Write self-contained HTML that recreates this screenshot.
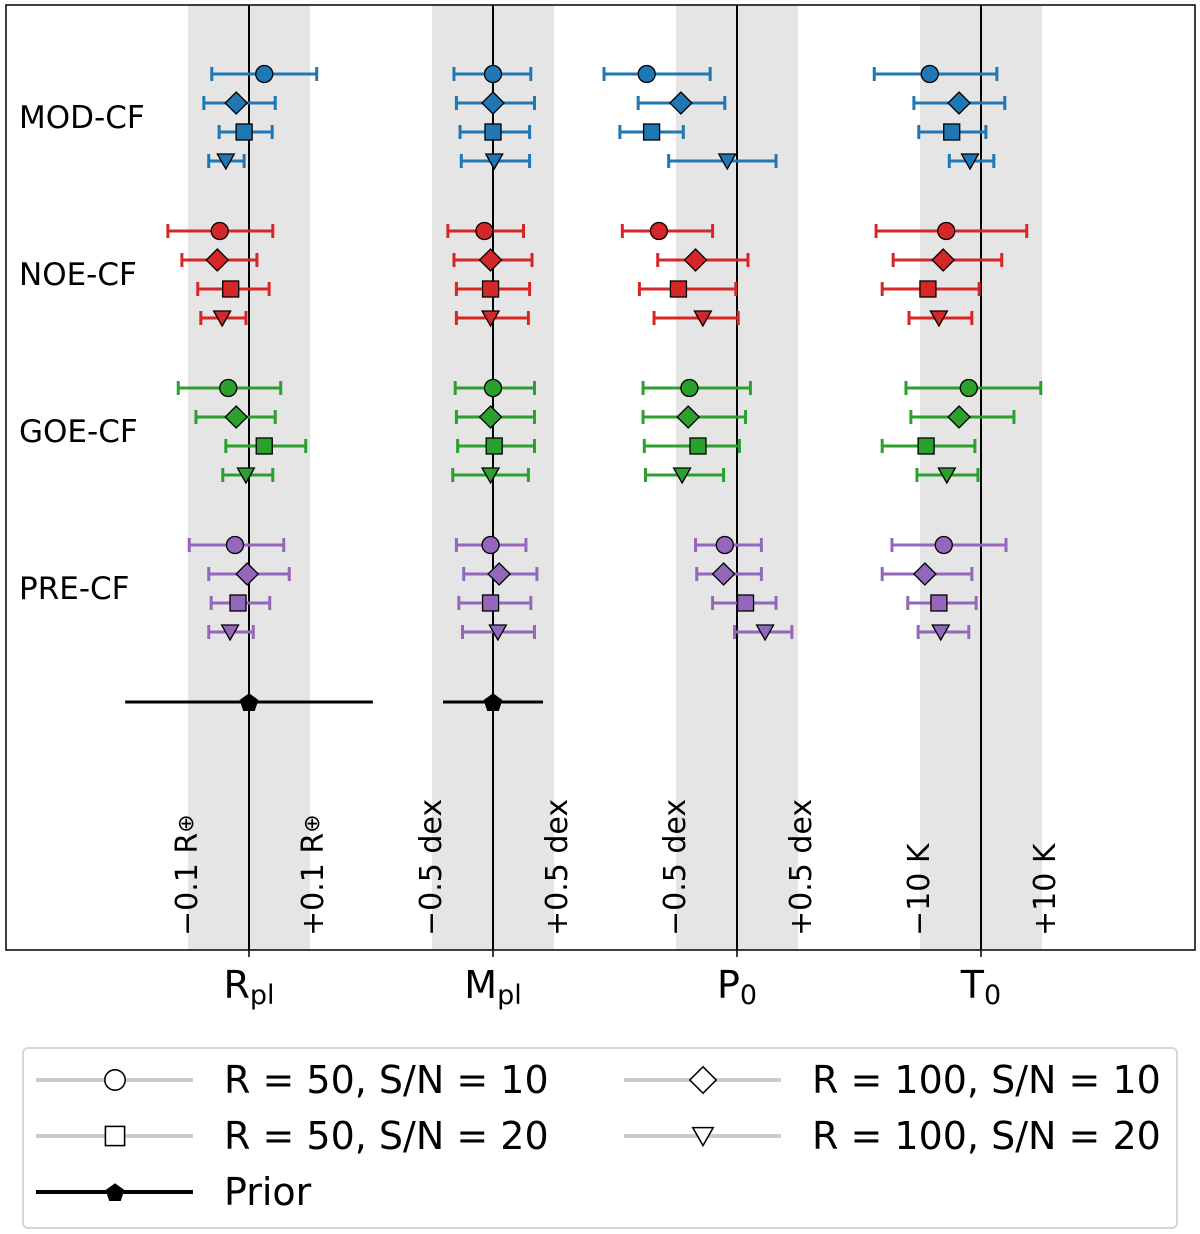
<!DOCTYPE html>
<html><head><meta charset="utf-8"><style>
html,body{margin:0;padding:0;background:#fff;}
svg{display:block;font-family:"DejaVu Sans","Liberation Sans",sans-serif;}
</style></head><body>
<svg id="chart" width="1200" height="1234" viewBox="0 0 1200 1234" xmlns="http://www.w3.org/2000/svg"></svg>
<script>
// ---- data ----
const columns = ["Rpl", "Mpl", "P0", "T0"];
const columnUnits = [0.1, 0.5, 0.5, 10];
const groups = ["MOD-CF", "NOE-CF", "GOE-CF", "PRE-CF"];
const groupColors = ["#1f77b4", "#d62728", "#2ca02c", "#9467bd"];
const markers = ["circle", "diamond", "square", "triangle"];
const bandLabelsNeg = ["\u22120.1 R", "\u22120.5 dex", "\u22120.5 dex", "\u221210 K"];
const bandLabelsPos = ["+0.1 R", "+0.5 dex", "+0.5 dex", "+10 K"];
const bandLabelSuffix = ["\u2295", "", "", ""];
// values[column][group][marker] = [center, low, high]
const rplValues = [
  [[0.025,-0.061,0.111],[-0.021,-0.074,0.043],[-0.008,-0.049,0.038],[-0.038,-0.066,-0.008]],
  [[-0.048,-0.133,0.039],[-0.052,-0.110,0.013],[-0.030,-0.084,0.033],[-0.044,-0.079,-0.005]],
  [[-0.034,-0.116,0.052],[-0.021,-0.087,0.043],[0.025,-0.038,0.093],[-0.005,-0.043,0.039]],
  [[-0.023,-0.098,0.057],[-0.003,-0.066,0.066],[-0.018,-0.062,0.034],[-0.031,-0.066,0.007]]
];
const mplValues = [
  [[0,-0.32,0.31],[0,-0.30,0.34],[0,-0.27,0.30],[0.01,-0.26,0.30]],
  [[-0.07,-0.37,0.25],[-0.02,-0.32,0.32],[-0.02,-0.30,0.30],[-0.02,-0.30,0.29]],
  [[0,-0.31,0.34],[-0.02,-0.30,0.34],[0.01,-0.29,0.34],[-0.02,-0.33,0.29]],
  [[-0.02,-0.30,0.27],[0.05,-0.24,0.36],[-0.02,-0.28,0.31],[0.04,-0.25,0.34]]
];
const p0Values = [
  [[-0.74,-1.09,-0.22],[-0.46,-0.81,-0.10],[-0.70,-0.96,-0.44],[-0.08,-0.56,0.32]],
  [[-0.64,-0.94,-0.20],[-0.34,-0.65,0.09],[-0.48,-0.80,-0.01],[-0.28,-0.68,0.01]],
  [[-0.39,-0.77,0.11],[-0.40,-0.77,0.07],[-0.32,-0.76,0.02],[-0.45,-0.75,-0.11]],
  [[-0.10,-0.34,0.20],[-0.11,-0.33,0.20],[0.07,-0.20,0.32],[0.23,-0.02,0.45]]
];
const t0Values = [
  [[-8.4,-17.5,2.6],[-3.6,-11.0,3.9],[-4.8,-10.2,0.8],[-1.8,-5.2,2.1]],
  [[-5.7,-17.2,7.5],[-6.2,-14.4,3.4],[-8.7,-16.2,-0.3],[-6.9,-11.8,-1.5]],
  [[-2.0,-12.3,9.8],[-3.6,-11.5,5.4],[-9.0,-16.2,-1.0],[-5.6,-10.5,-0.5]],
  [[-6.1,-14.6,4.1],[-9.2,-16.2,-1.5],[-6.9,-12.0,-0.8],[-6.6,-10.3,-2.0]]
];
const priorValues = [[0,-0.203,0.203],[0,-0.41,0.41]];
const legendLabels = ["R = 50, S/N = 10","R = 100, S/N = 10","R = 50, S/N = 20","R = 100, S/N = 20","Prior"];

// ---- layout ----
const NS = "http://www.w3.org/2000/svg";
const svg = document.getElementById("chart");
const colCenters = [249, 493, 737, 981];
const halfBand = 61;
const groupY0 = [74, 231, 388, 545];
const rowStep = 29;
const priorY = 702;
const axTop = 5, axBottom = 950, axLeft = 6, axRight = 1195;
const allValues = [rplValues, mplValues, p0Values, t0Values];

function xScale(col, v) { return colCenters[col] + v / columnUnits[col] * halfBand; }
function mk(tag, attrs, parent) {
  const e = document.createElementNS(NS, tag);
  for (const k in attrs) e.setAttribute(k, attrs[k]);
  (parent || svg).appendChild(e);
  return e;
}
function drawMarker(type, x, y, fill, stroke, parent) {
  let e;
  if (type === "circle") e = mk("circle", {cx:x, cy:y, r:8.5}, parent);
  else if (type === "square") e = mk("rect", {x:x-8, y:y-8, width:16, height:16}, parent);
  else if (type === "diamond") e = mk("polygon", {points:`${x},${y-11} ${x+11},${y} ${x},${y+11} ${x-11},${y}`}, parent);
  else if (type === "triangle") e = mk("polygon", {points:`${x-8.5},${y-7} ${x+8.5},${y-7} ${x},${y+8}`}, parent);
  else if (type === "pentagon") {
    const pts = [];
    for (let i = 0; i < 5; i++) { const a = -Math.PI/2 + i*2*Math.PI/5; pts.push((x+9*Math.cos(a)).toFixed(1)+","+(y+9*Math.sin(a)).toFixed(1)); }
    e = mk("polygon", {points: pts.join(" ")}, parent);
  }
  e.setAttribute("fill", fill);
  e.setAttribute("stroke", stroke);
  e.setAttribute("stroke-width", 1.3);
  return e;
}

// bands
for (let c = 0; c < 4; c++) {
  const b = mk("rect", {x: colCenters[c]-halfBand, y: axTop, width: 2*halfBand, height: axBottom-axTop, fill:"#e5e5e5"});
  
  
}
// center lines
for (let c = 0; c < 4; c++) {
  const l = mk("line", {x1: colCenters[c], x2: colCenters[c], y1: axTop, y2: axBottom, stroke:"#000", "stroke-width":2});
  
  
}
// band labels
for (let c = 0; c < 4; c++) {
  const xn = colCenters[c]-halfBand+9, xp = colCenters[c]+halfBand+13;
  const tn = mk("text", {x:0, y:0, transform:`translate(${xn},936) rotate(-90)`, "font-size":30, fill:"#000"});
  
  
  const a1 = mk("tspan", {}, tn); a1.textContent = bandLabelsNeg[c];
  if (bandLabelSuffix[c]) { const b1 = mk("tspan", {"font-size":22, dy:-4}, tn); b1.textContent = bandLabelSuffix[c]; }
  const tp = mk("text", {x:0, y:0, transform:`translate(${xp},936) rotate(-90)`, "font-size":30, fill:"#000"});
  
  
  const a2 = mk("tspan", {}, tp); a2.textContent = bandLabelsPos[c];
  if (bandLabelSuffix[c]) { const b2 = mk("tspan", {"font-size":22, dy:-4}, tp); b2.textContent = bandLabelSuffix[c]; }
}
// data
for (let c = 0; c < 4; c++) {
  for (let g = 0; g < 4; g++) {
    for (let m = 0; m < 4; m++) {
      const d = allValues[c][g][m];
      const y = groupY0[g] + m*rowStep;
      const grp = mk("g", {});
      
      
      const x0 = xScale(c, d[1]), x1 = xScale(c, d[2]);
      mk("line", {x1:x0, x2:x1, y1:y, y2:y, stroke:groupColors[g], "stroke-width":3}, grp);
      mk("line", {x1:x0, x2:x0, y1:y-7, y2:y+7, stroke:groupColors[g], "stroke-width":3}, grp);
      mk("line", {x1:x1, x2:x1, y1:y-7, y2:y+7, stroke:groupColors[g], "stroke-width":3}, grp);
      drawMarker(markers[m], xScale(c, d[0]), y, groupColors[g], "#000", grp);
    }
  }
}
// priors
for (let c = 0; c < priorValues.length; c++) {
  const d = priorValues[c];
  const grp = mk("g", {});
  
  
  mk("line", {x1:xScale(c,d[1]), x2:xScale(c,d[2]), y1:priorY, y2:priorY, stroke:"#000", "stroke-width":3}, grp);
  drawMarker("pentagon", xScale(c, d[0]), priorY+1, "#000", "#000", grp);
}
// group labels
for (let g = 0; g < 4; g++) {
  const t = mk("text", {x:19, y: groupY0[g]+54, "font-size":31, fill:"#000"});
  t.textContent = groups[g];
  
  
}
// axes frame
const frame = mk("rect", {x:axLeft, y:axTop, width:axRight-axLeft, height:axBottom-axTop, fill:"none", stroke:"#000", "stroke-width":1.5});


// ticks + x labels
const xMain = ["R", "M", "P", "T"];
const xSub = ["pl", "pl", "0", "0"];
for (let c = 0; c < 4; c++) {
  mk("line", {x1:colCenters[c], x2:colCenters[c], y1:axBottom, y2:axBottom+7, stroke:"#000", "stroke-width":1.5});
  const t = mk("text", {x:colCenters[c], y:998, "font-size":38, "text-anchor":"middle", fill:"#000"});
  
  
  const s1 = mk("tspan", {}, t); s1.textContent = xMain[c];
  const s2 = mk("tspan", {"font-size":27, dy:6}, t); s2.textContent = xSub[c];
}
// legend
const lg = mk("g", {});


mk("rect", {x:23, y:1048, width:1154, height:180, rx:5, fill:"#fff", stroke:"#ccc", "stroke-width":1.5}, lg);
const legendEntries = [
  {lx:36, ly:1080, m:"circle", label:legendLabels[0]},
  {lx:624, ly:1080, m:"diamond", label:legendLabels[1]},
  {lx:36, ly:1136, m:"square", label:legendLabels[2]},
  {lx:624, ly:1136, m:"triangle", label:legendLabels[3]},
  {lx:36, ly:1192, m:"pentagon", label:legendLabels[4], prior:true}
];
legendEntries.forEach((e, i) => {
  const g = mk("g", {}, lg);
  
  
  mk("line", {x1:e.lx, x2:e.lx+157, y1:e.ly, y2:e.ly, stroke: e.prior ? "#000" : "#cccccc", "stroke-width": 4}, g);
  const mx = e.lx + 79;
  if (e.prior) drawMarker("pentagon", mx, e.ly+1, "#000", "#000", g);
  else {
    const mm = drawMarker(e.m, mx, e.ly, "#fff", "#000", g);
    mm.setAttribute("transform", `translate(${mx},${e.ly}) scale(1.2) translate(${-mx},${-e.ly})`);
  }
  const t = mk("text", {x:e.lx+188, y:e.ly+13, "font-size":38, fill:"#000"}, g);
  t.textContent = e.label;
});
</script>
</body></html>
